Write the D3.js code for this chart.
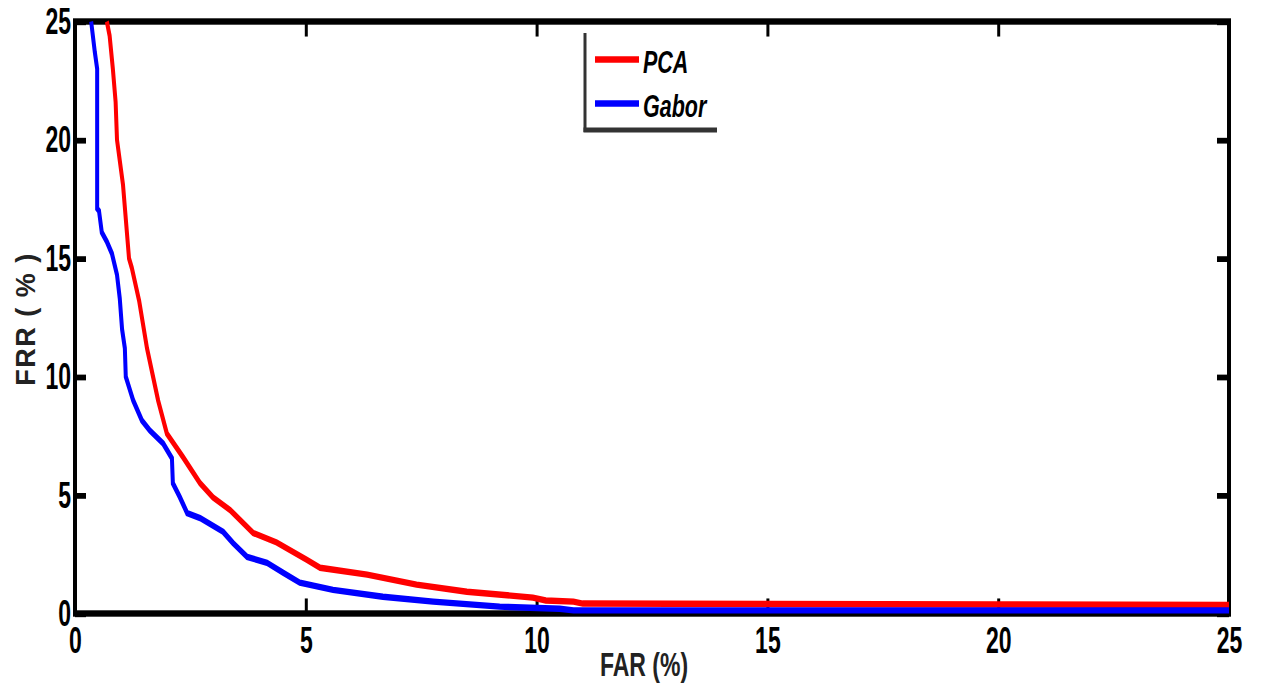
<!DOCTYPE html>
<html>
<head>
<meta charset="utf-8">
<script src="https://cdn.jsdelivr.net/npm/d3@7"></script>
<style>
    body { margin: 0; background: #fff; }
    text { font-family: "Liberation Sans", Arial, sans-serif; }
</style>
</head>
<body>
<div id="chart"></div>
<script>
// FAR (%) / FRR (%) pairs
const pcaFar = [0.69, 0.75, 0.82, 0.88, 0.91, 1.04, 1.17, 1.23, 1.39, 1.56, 1.80, 1.99, 2.34, 2.71, 2.99, 3.36, 3.86, 4.37, 5.02, 5.31, 6.33, 7.40, 8.49, 9.92, 10.2, 10.8, 11.0, 15, 20, 25];
const pcaFrr = [25, 24.4, 23, 21.6, 20, 18.1, 15, 14.6, 13.2, 11.2, 9.0, 7.6, 6.6, 5.5, 4.9, 4.37, 3.4, 3.0, 2.27, 1.93, 1.64, 1.22, 0.92, 0.67, 0.55, 0.5, 0.42, 0.4, 0.38, 0.36];

const gaborFar = [0.35, 0.43, 0.48, 0.48, 0.52, 0.58, 0.69, 0.80, 0.91, 0.97, 1.02, 1.08, 1.10, 1.26, 1.45, 1.62, 1.91, 2.10, 2.12, 2.27, 2.43, 2.71, 3.21, 3.42, 3.73, 4.16, 4.51, 4.87, 5.59, 6.67, 7.76, 9.2, 10.5, 10.8, 25];
const gaborFrr = [25, 23.7, 23, 17.1, 17.0, 16.1, 15.7, 15.2, 14.3, 13.3, 12.0, 11.2, 10, 9.0, 8.15, 7.73, 7.18, 6.55, 5.5, 4.92, 4.24, 4.03, 3.45, 2.98, 2.39, 2.14, 1.72, 1.3, 1.0, 0.71, 0.5, 0.29, 0.2, 0.13, 0.13];

const xTicks = [0, 5, 10, 15, 20, 25];
const yTicks = [0, 5, 10, 15, 20, 25];
const seriesNames = ["PCA", "Gabor"];
const seriesColors = ["#ff0000", "#0000ff"];

const series = [
    { name: seriesNames[0], color: seriesColors[0], pts: pcaFar.map((v, i) => [v, pcaFrr[i]]) },
    { name: seriesNames[1], color: seriesColors[1], pts: gaborFar.map((v, i) => [v, gaborFrr[i]]) }
];

const width = 1262, height = 691;
// the original figure looks stretched vertically, so the plot is drawn squeezed and scaled back up
const K = 1.6;

const svg = d3.select("#chart")
    .append("svg")
    .attr("width", width)
    .attr("height", height);

const g = svg.append("g")
    .attr("transform", `scale(1, ${K})`);

const xScale = d3.scaleLinear().domain([0, 25]).range([75, 1229]);
const yScale = d3.scaleLinear().domain([0, 25]).range([613.5 / K, 21.5 / K]);

// box
g.append("rect")
    .attr("x", xScale(0))
    .attr("y", yScale(25))
    .attr("width", xScale(25) - xScale(0))
    .attr("height", yScale(0) - yScale(25))
    .attr("fill", "none")
    .attr("stroke", "#000")
    .attr("stroke-width", 4);

const xAxis = g.append("g")
    .attr("transform", `translate(0, ${yScale(0)})`)
    .call(d3.axisBottom(xScale).tickValues(xTicks).tickSizeInner(-9.4).tickSizeOuter(0).tickPadding(8.5));

const xAxisTop = g.append("g")
    .attr("transform", `translate(0, ${yScale(25)})`)
    .call(d3.axisTop(xScale).tickValues(xTicks).tickSizeInner(-9.4).tickSizeOuter(0).tickFormat(() => ""));

const yAxis = g.append("g")
    .attr("transform", `translate(${xScale(0)}, 0)`)
    .call(d3.axisLeft(yScale).tickValues(yTicks).tickSizeInner(-11).tickSizeOuter(0).tickPadding(4));

const yAxisRight = g.append("g")
    .attr("transform", `translate(${xScale(25)}, 0)`)
    .call(d3.axisRight(yScale).tickValues(yTicks).tickSizeInner(-12).tickSizeOuter(0).tickFormat(() => ""));

[xAxis, xAxisTop, yAxis, yAxisRight].forEach(a => {
    a.select(".domain").remove();
    a.selectAll(".tick line").attr("stroke", "#000");
    a.selectAll("text")
        .attr("fill", "#000")
        .style("font-size", "23px")
        .style("font-weight", "bold")
        .style("font-family", "'Liberation Sans', Arial, sans-serif");
});
xAxis.selectAll(".tick line").attr("stroke-width", 3);
xAxisTop.selectAll(".tick line").attr("stroke-width", 3);
yAxis.selectAll(".tick line").attr("stroke-width", 3.6);
yAxisRight.selectAll(".tick line").attr("stroke-width", 3.6);

// curves
const line = d3.line()
    .x(d => xScale(d[0]))
    .y(d => yScale(d[1]));

g.selectAll(".curve")
    .data(series)
    .enter()
    .append("path")
    .attr("class", "curve")
    .attr("d", d => line(d.pts))
    .attr("fill", "none")
    .attr("stroke", d => d.color)
    .attr("stroke-width", 4)
    .attr("stroke-linejoin", "miter");

// axis titles (unscaled, each with its own stretch)
svg.append("text")
    .attr("transform", "translate(644, 676) scale(1, 1.42)")
    .attr("text-anchor", "middle")
    .style("font-size", "23px")
    .style("font-weight", "bold")
    .attr("fill", "#222")
    .text("FAR (%)");

svg.append("text")
    .attr("transform", "translate(35, 319) rotate(-90)")
    .attr("text-anchor", "middle")
    .style("font-size", "27px")
    .style("font-weight", "bold")
    .style("letter-spacing", "1.5px")
    .attr("fill", "#222")
    .text("FRR ( % )");

// legend
const legend = svg.append("g");

legend.append("line")
    .attr("x1", 585).attr("x2", 585)
    .attr("y1", 33).attr("y2", 132)
    .attr("stroke", "#333").attr("stroke-width", 3);

legend.append("line")
    .attr("x1", 583.5).attr("x2", 717)
    .attr("y1", 130).attr("y2", 130)
    .attr("stroke", "#333").attr("stroke-width", 5);

const item = legend.selectAll(".item")
    .data(series)
    .enter()
    .append("g")
    .attr("class", "item")
    .attr("transform", (d, i) => `translate(0, ${59.5 + i * 44})`);

item.append("line")
    .attr("x1", 595).attr("x2", 639)
    .attr("y1", 0).attr("y2", 0)
    .attr("stroke", d => d.color)
    .attr("stroke-width", 6.5);

item.append("text")
    .attr("transform", "translate(643, 13) scale(1, 1.45)")
    .style("font-size", "21.5px")
    .style("font-weight", "bold")
    .style("font-style", "italic")
    .attr("fill", "#000")
    .text(d => d.name);
</script>
</body>
</html>
